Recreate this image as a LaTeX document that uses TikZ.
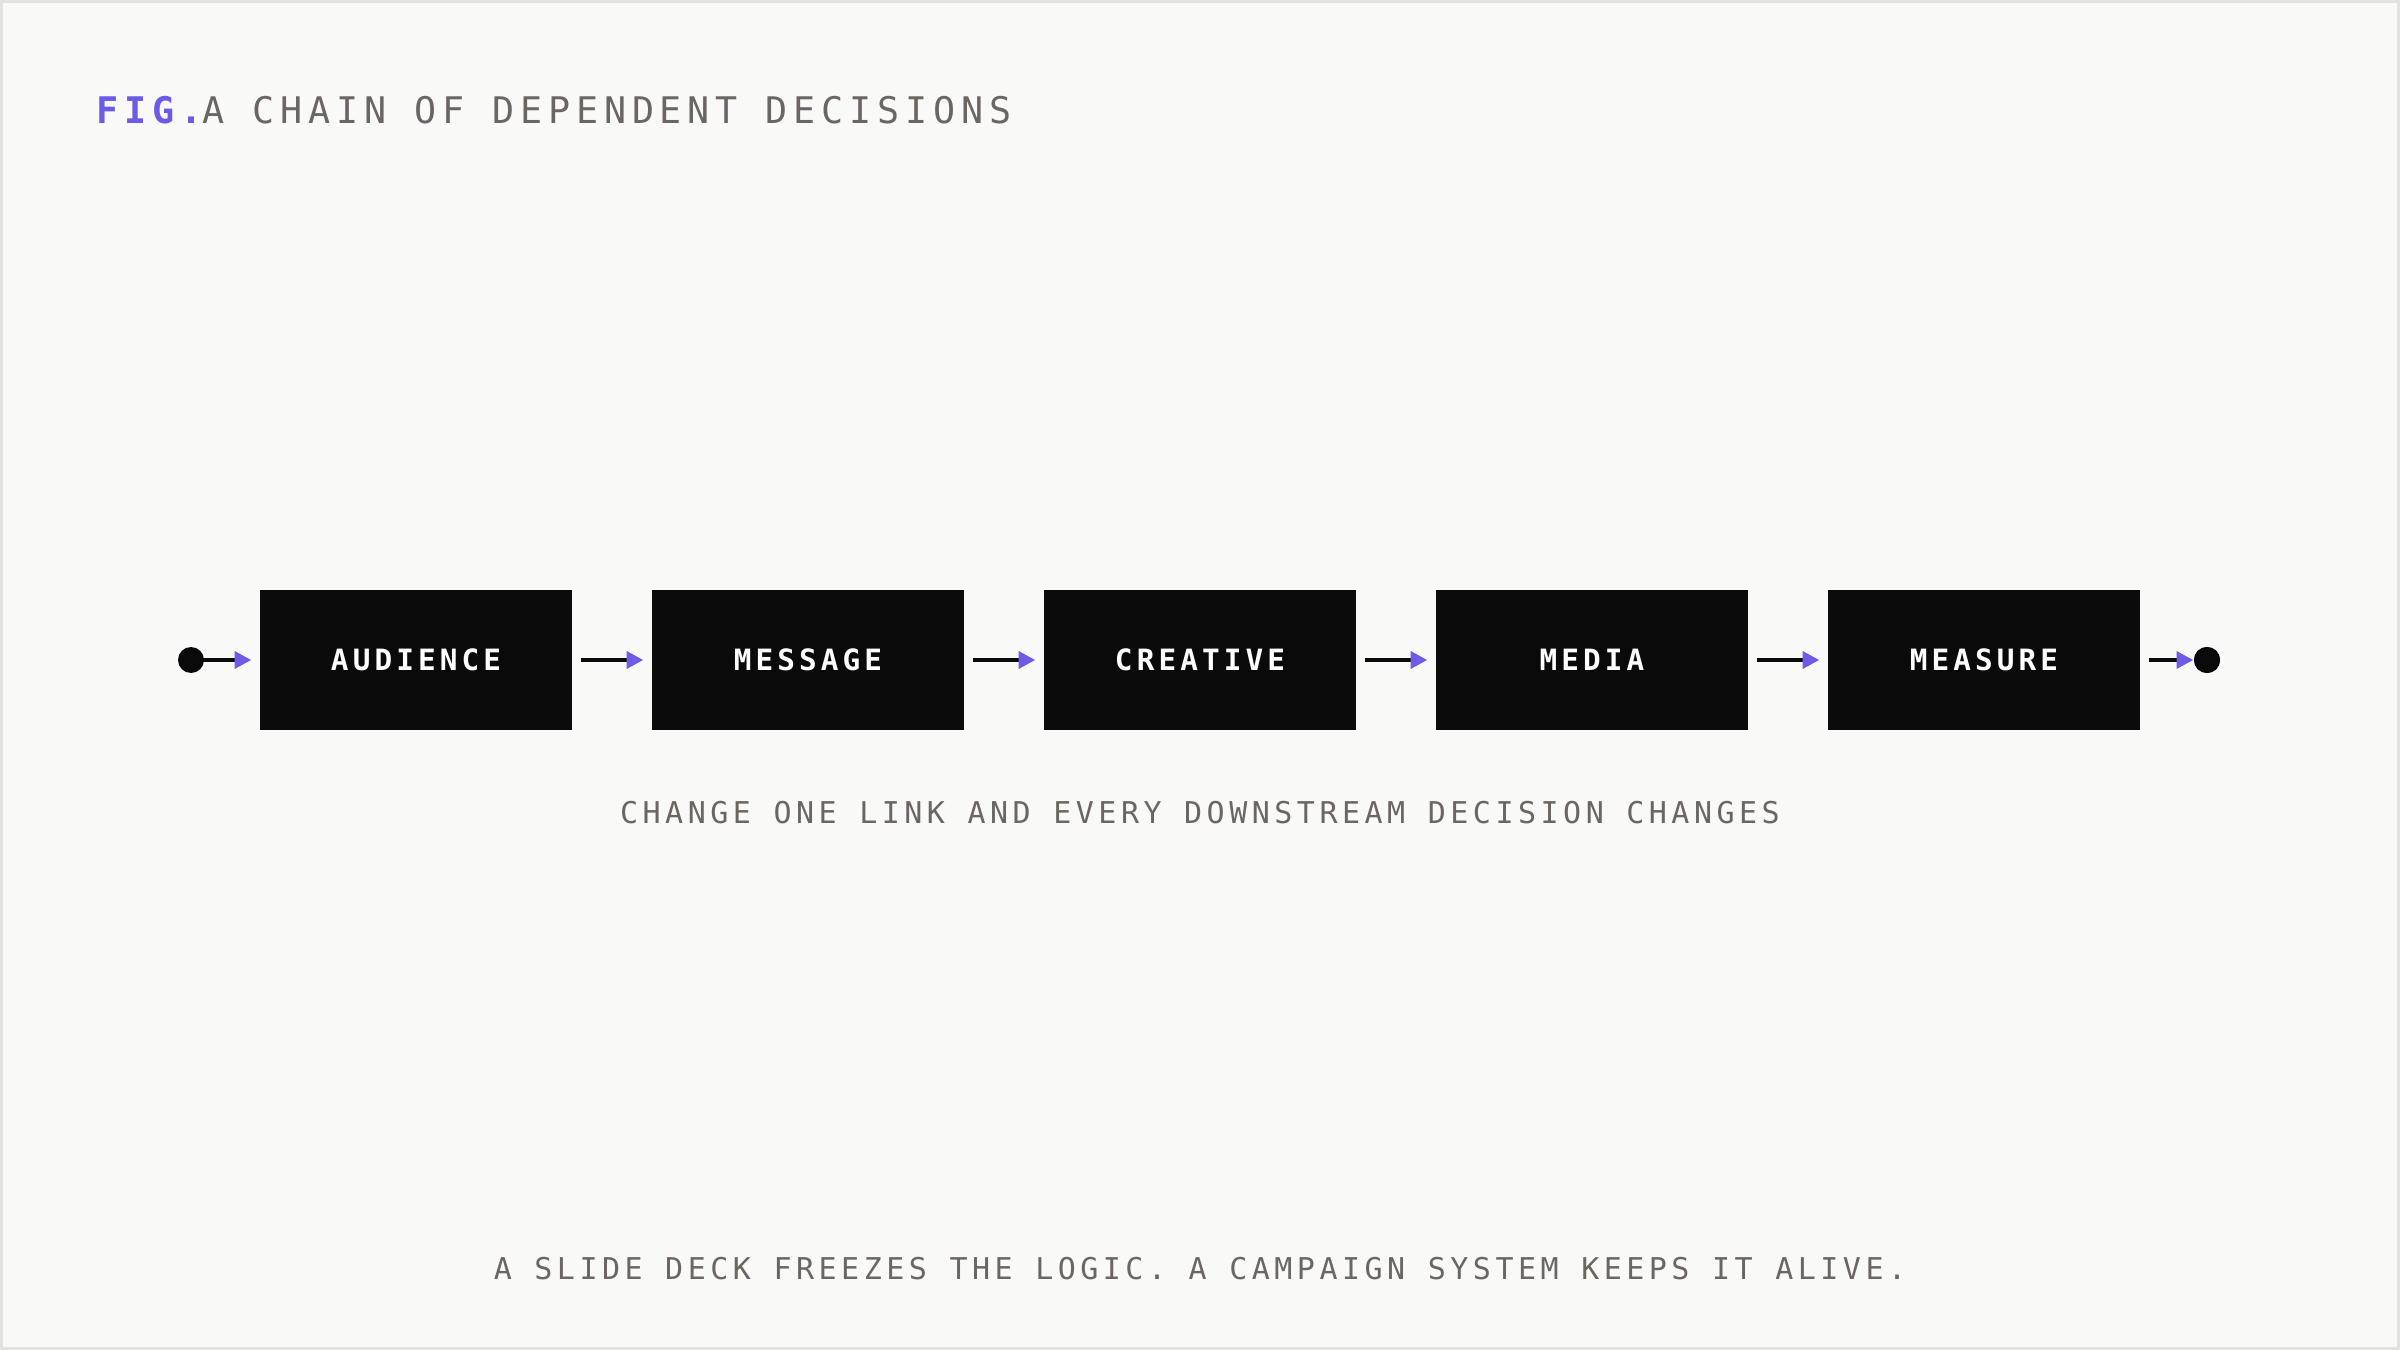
\documentclass[tikz,border=0pt]{standalone}
\usepackage{fontspec}
\newfontfamily\titlefont[LetterSpace=16]{DejaVu Sans Mono}
\newfontfamily\boxfont[LetterSpace=14]{DejaVu Sans Mono}
\newfontfamily\capfont[LetterSpace=15]{DejaVu Sans Mono}
\usetikzlibrary{arrows.meta}
\definecolor{bg}{HTML}{F9F9F7}
\definecolor{frame}{HTML}{E2E2E0}
\definecolor{graytxt}{HTML}{6B6661}
\definecolor{accent}{HTML}{6B5BE6}
\definecolor{boxc}{HTML}{0A0A0A}
\begin{document}
\begin{tikzpicture}[x=0.3pt,y=-0.3pt,
  stepbox/.style={fill=boxc,minimum width=93.6pt,minimum height=42pt,inner sep=0pt,text=white,font=\boxfont\fontsize{8.8}{10}\selectfont\bfseries},
  link/.style={draw=boxc,line width=1.2pt,-{Triangle[length=5pt,width=5pt,fill=accent,color=accent]}},
  dotc/.style={circle,fill=boxc,minimum size=7.8pt,inner sep=0pt}]
\fill[frame] (0,0) rectangle (2400,1350);
\fill[bg] (3,3) rectangle (2397,1347);
\useasboundingbox (0,0) rectangle (2400,1350);
\node[anchor=west,inner sep=0pt,font=\titlefont\fontsize{11}{13}\selectfont] (title) at (96,110) {\textcolor{accent}{\bfseries FIG.}\textcolor{graytxt}{ A CHAIN OF DEPENDENT DECISIONS}};
\node[stepbox] (b1) at (416,660) {AUDIENCE};
\node[stepbox] (b2) at (808,660) {MESSAGE};
\node[stepbox] (b3) at (1200,660) {CREATIVE};
\node[stepbox] (b4) at (1592,660) {MEDIA};
\node[stepbox] (b5) at (1984,660) {MEASURE};
\node[dotc] (s) at (191,660) {};
\node[dotc] (e) at (2207,660) {};
\draw[link] (s.center) -- ([xshift=-2.4pt]b1.west);
\draw[link] ([xshift=2.4pt]b1.east) -- ([xshift=-2.4pt]b2.west);
\draw[link] ([xshift=2.4pt]b2.east) -- ([xshift=-2.4pt]b3.west);
\draw[link] ([xshift=2.4pt]b3.east) -- ([xshift=-2.4pt]b4.west);
\draw[link] ([xshift=2.4pt]b4.east) -- ([xshift=-2.4pt]b5.west);
\draw[link] ([xshift=2.4pt]b5.east) -- (e.west);
\node[dotc] at (e) {};
\node[text=graytxt,font=\capfont\fontsize{9}{11}\selectfont] (cap) at (1200,813) {CHANGE ONE LINK AND EVERY DOWNSTREAM DECISION CHANGES};
\node[text=graytxt,font=\capfont\fontsize{9}{11}\selectfont] (foot) at (1200,1269) {A SLIDE DECK FREEZES THE LOGIC. A CAMPAIGN SYSTEM KEEPS IT ALIVE.};
\end{tikzpicture}
\end{document}
